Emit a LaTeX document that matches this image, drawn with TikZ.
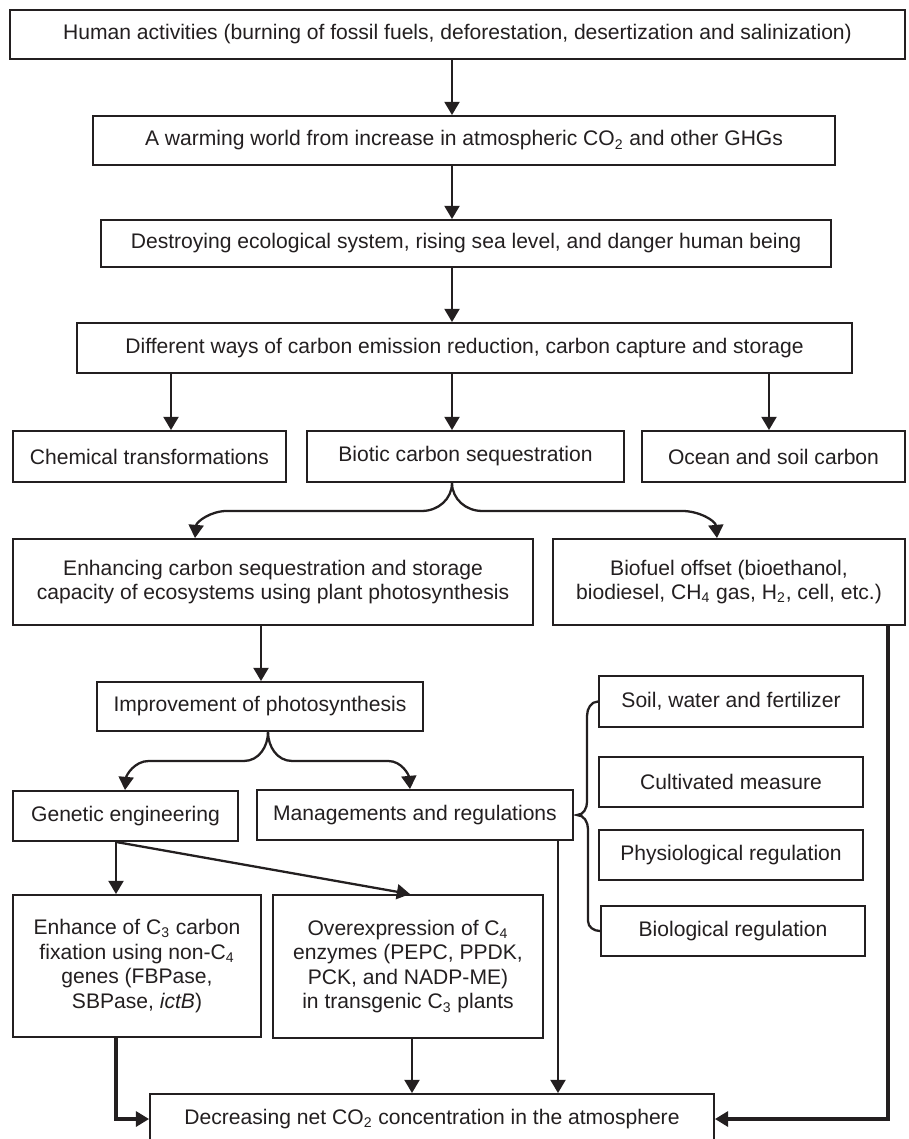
\documentclass[tikz,border=0pt]{standalone}
\usepackage{fontspec}
\setmainfont{Liberation Sans}
\usepackage{tikz}
\usetikzlibrary{arrows.meta}
\definecolor{ink}{HTML}{231F20}
\tikzstyle{box} = [rectangle, draw=ink, line width=1.1pt, fill=white, text=ink, align=center, inner sep=2pt, font=\fontsize{12}{14}\selectfont]
\tikzstyle{arr} = [-{Triangle[length=7.5pt, width=8.5pt]}, draw=ink, line width=1.3pt]
\tikzstyle{heavy} = [arr, line width=2pt]
\tikzstyle{brace} = [draw=ink, line width=1.3pt]

\begin{document}
\begin{tikzpicture}[x=0.02cm, y=-0.02cm]

    \useasboundingbox (0, 0) rectangle (909, 1139);

    % top chain
    \node[box, minimum width=17.9cm, minimum height=0.98cm] (human) at (457.5, 34.5) {Human activities (burning of fossil fuels, deforestation, desertization and salinization)};
    \node[box, minimum width=14.84cm, minimum height=0.98cm] (warming) at (464, 140.5) {A warming world from increase in atmospheric CO\textsubscript{2} and other GHGs};
    \node[box, minimum width=14.6cm, minimum height=0.94cm] (destroy) at (466, 243.5) {Destroying ecological system, rising sea level, and danger human being};
    \node[box, minimum width=15.5cm, minimum height=1cm] (ways) at (464.5, 348) {Different ways of carbon emission reduction, carbon capture and storage};

    \node[box, minimum width=5.46cm, minimum height=1.02cm] (chem) at (149.5, 456.5) {Chemical transformations};
    \node[box, minimum width=6.34cm, minimum height=1.02cm] (biotic) at (465.5, 456.5) {Biotic carbon sequestration};
    \node[box, minimum width=5.26cm, minimum height=1.02cm] (ocean) at (773.5, 456.5) {Ocean and soil carbon};

    \node[box, minimum width=10.4cm, minimum height=1.72cm] (enhance) at (273, 582) {Enhancing carbon sequestration and storage\\capacity of ecosystems using plant photosynthesis};
    \node[box, minimum width=7.04cm, minimum height=1.72cm] (biofuel) at (729, 582) {Biofuel offset (bioethanol,\\biodiesel, CH\textsubscript{4} gas, H\textsubscript{2}, cell, etc.)};

    \node[box, minimum width=6.52cm, minimum height=0.98cm] (improve) at (260, 706.5) {Improvement of photosynthesis};
    \node[box, minimum width=4.5cm, minimum height=1cm] (genetic) at (125.5, 816) {Genetic engineering};
    \node[box, minimum width=6.32cm, minimum height=1cm] (manage) at (415, 815) {Managements and regulations};

    % measures on the right
    \node[box, minimum width=5.28cm, minimum height=1.02cm] (soil) at (731, 701.5) {Soil, water and fertilizer};
    \node[box, minimum width=5.28cm, minimum height=1cm] (cultivated) at (731, 782) {Cultivated measure};
    \node[box, minimum width=5.28cm, minimum height=1cm] (physio) at (731, 855) {Physiological regulation};
    \node[box, minimum width=5.28cm, minimum height=1cm] (biological) at (733, 931) {Biological regulation};

    \node[box, minimum width=4.96cm, minimum height=2.84cm] (cthree) at (137, 966) {Enhance of C\textsubscript{3} carbon\\fixation using non-C\textsubscript{4}\\genes (FBPase,\\SBPase, \textit{ictB})};
    \node[box, minimum width=5.4cm, minimum height=2.86cm] (cfour) at (408, 966.5) {Overexpression of C\textsubscript{4}\\enzymes (PEPC, PPDK,\\PCK, and NADP-ME)\\in transgenic C\textsubscript{3} plants};

    \node[box, minimum width=11.28cm, minimum height=1cm] (final) at (432, 1119) {Decreasing net CO\textsubscript{2} concentration in the atmosphere};

    % columns for the connectors
    \coordinate (spine) at (452, 0);
    \coordinate (colchem) at (171, 0);
    \coordinate (colocean) at (769, 0);
    \coordinate (brleft) at (195, 0);
    \coordinate (brright) at (717, 0);
    \coordinate (colimp) at (261, 0);
    \coordinate (tipimp) at (268, 0);
    \coordinate (colgen) at (116, 0);
    \coordinate (colman) at (410, 0);
    \coordinate (colfour) at (412, 0);
    \coordinate (coldown) at (558, 0);
    \coordinate (colfuel) at (888, 0);
    \coordinate (tip) at (577, 815);

    \draw[arr] (human.south -| spine) -- (warming.north -| spine);
    \draw[arr] (warming.south -| spine) -- (destroy.north -| spine);
    \draw[arr] (destroy.south -| spine) -- (ways.north -| spine);

    \draw[arr] (ways.south -| colchem) -- (chem.north -| colchem);
    \draw[arr] (ways.south -| spine) -- (biotic.north -| spine);
    \draw[arr] (ways.south -| colocean) -- (ocean.north -| colocean);

    % brace below biotic
    \draw[arr] (biotic.south -| spine) to[out=-90, in=0] ++(-30, 28) -- ++(-195, 0) to[out=180, in=85] (enhance.north -| brleft);
    \draw[arr] (biotic.south -| spine) to[out=-90, in=180] ++(30, 28) -- ++(200, 0) to[out=0, in=95] (biofuel.north -| brright);

    \draw[arr] (enhance.south -| colimp) -- (improve.north -| colimp);

    % brace below improvement
    \draw[arr] (improve.south -| tipimp) to[out=-90, in=0] ++(-24, 29) -- ++(-95, 0) to[out=180, in=85] (genetic.north -| 125, 0);
    \draw[arr] (improve.south -| tipimp) to[out=-90, in=180] ++(24, 29) -- ++(96, 0) to[out=0, in=95] (manage.north -| colman);

    % brace to the measures
    \draw[brace] (soil.west) to[out=180, in=90] ++(-11, 14) -- ++(0, 86) to[out=-90, in=0] (tip) to[out=0, in=90] ++(11, 14) -- ++(0, 92) to[out=-90, in=180] (biological.west);

    \draw[arr] (genetic.south -| colgen) -- (cthree.north -| colgen);
    \draw[arr] (genetic.south -| colgen) -- (cfour.north -| colman);

    \draw[arr] (cfour.south -| colfour) -- (final.north -| colfour);
    \draw[arr] (manage.south -| coldown) -- (final.north -| coldown);
    \draw[heavy] (cthree.south -| colgen) |- (final.west);
    \draw[heavy] (biofuel.south -| colfuel) |- (final.east);

\end{tikzpicture}
\end{document}
